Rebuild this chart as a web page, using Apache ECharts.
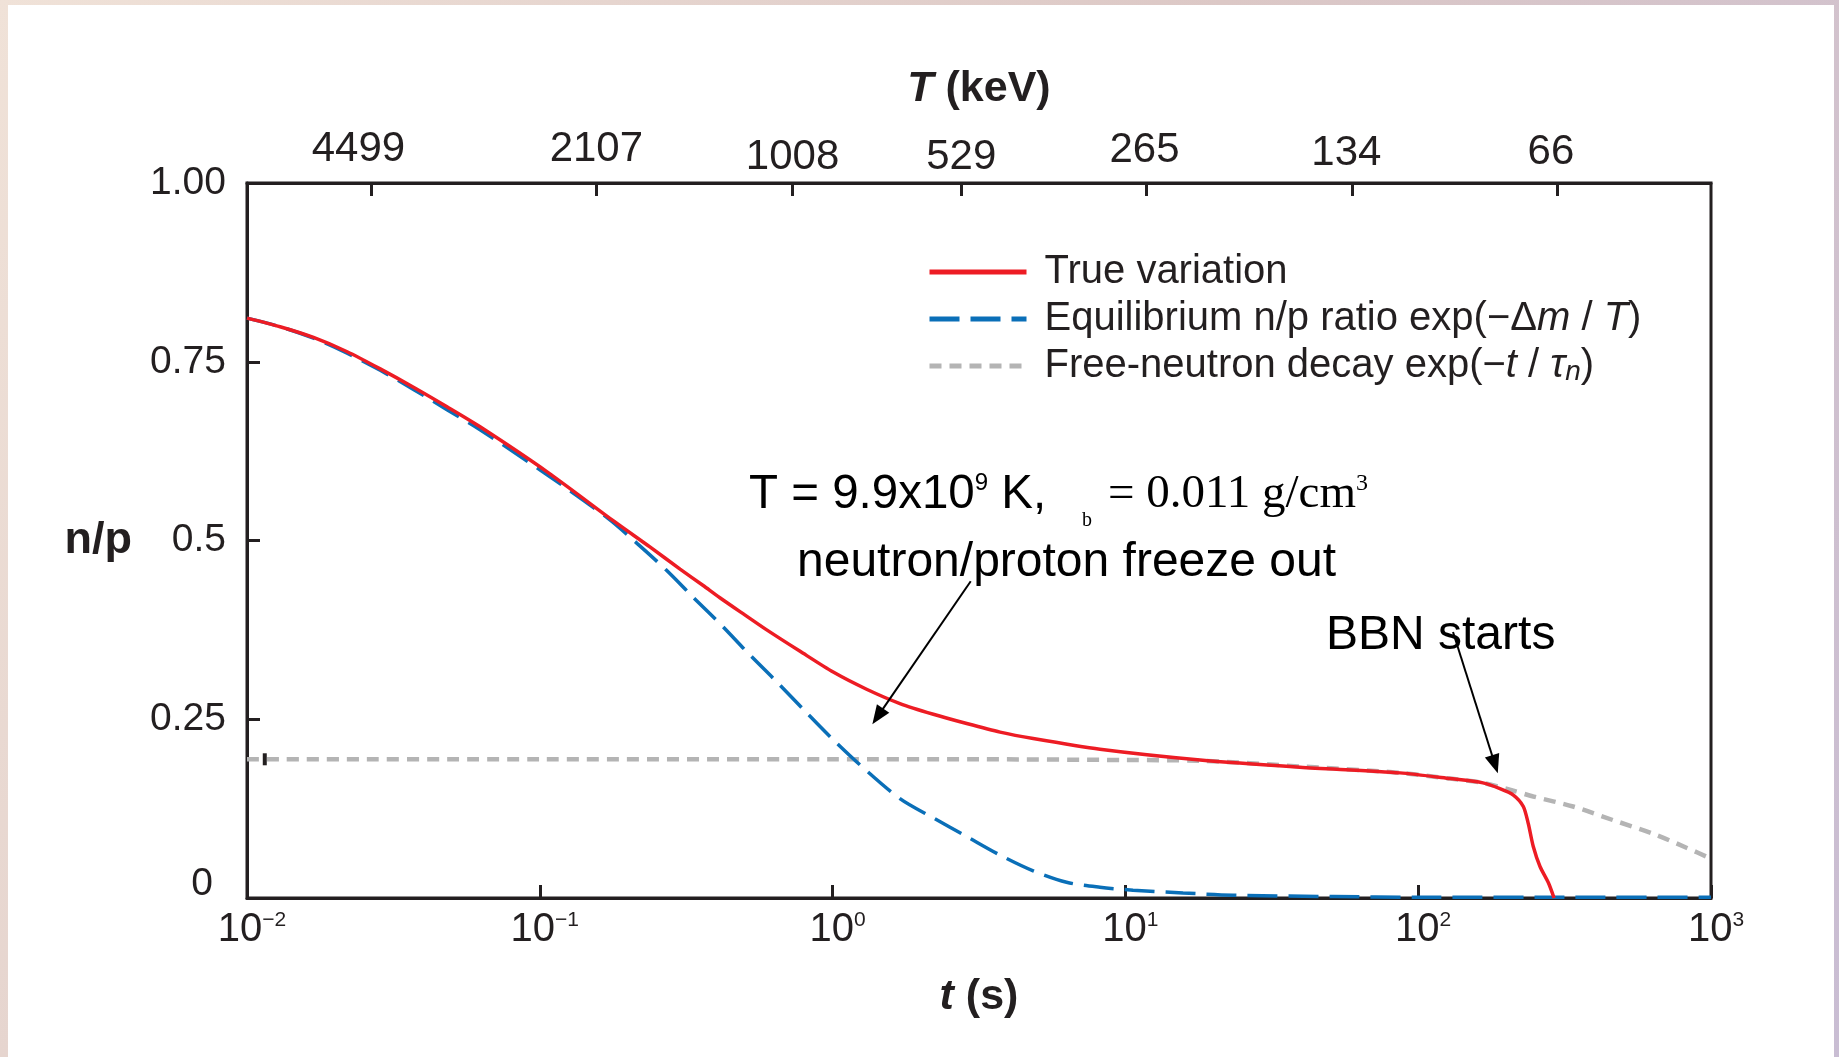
<!DOCTYPE html>
<html>
<head>
<meta charset="utf-8">
<script src="https://cdn.jsdelivr.net/npm/echarts@6/dist/echarts.min.js"></script>
<style>
html,body{margin:0;padding:0;background:#fff;}
#c{width:1839px;height:1057px;}
</style>
</head>
<body>
<div id="c"></div>
<script>
// ---------- data ----------
// log10(t / s) positions and n/p values
const trueLogT = [-2.0, -1.887, -1.773, -1.658, -1.545, -1.430, -1.317, -1.204, -0.975, -0.747, -0.624, -0.521, -0.442, -0.385, -0.300, -0.225, -0.111, 0.002, 0.116, 0.230, 0.344, 0.458, 0.572, 0.685, 0.913, 1.255, 1.596, 1.938, 2.109, 2.221, 2.279, 2.325, 2.359, 2.376, 2.393, 2.416, 2.445, 2.464];
const trueVal  = [0.811, 0.799, 0.784, 0.764, 0.740, 0.714, 0.687, 0.659, 0.596, 0.527, 0.491, 0.460, 0.437, 0.420, 0.396, 0.375, 0.345, 0.316, 0.292, 0.272, 0.257, 0.244, 0.232, 0.223, 0.208, 0.193, 0.183, 0.175, 0.167, 0.161, 0.153, 0.144, 0.128, 0.104, 0.072, 0.044, 0.021, 0.000];

const eqLogT = [-2.0, -1.887, -1.773, -1.658, -1.545, -1.430, -1.317, -1.204, -0.975, -0.767, -0.668, -0.569, -0.477, -0.378, -0.285, -0.190, -0.098, -0.002, 0.094, 0.230, 0.344, 0.458, 0.572, 0.685, 0.799, 0.913, 1.026, 1.197, 1.368, 1.710, 2.0, 2.5, 3.0];
const eqVal  = [0.811, 0.799, 0.783, 0.762, 0.738, 0.711, 0.683, 0.655, 0.592, 0.531, 0.496, 0.459, 0.421, 0.381, 0.341, 0.302, 0.263, 0.223, 0.186, 0.139, 0.112, 0.086, 0.060, 0.038, 0.022, 0.015, 0.011, 0.007, 0.004, 0.002, 0.001, 0.001, 0.001];

const decayLogT = [-2.0, -1.0, 0.0, 0.5, 1.0, 1.255, 1.596, 1.938, 2.109, 2.221, 2.325, 2.393, 2.529, 2.665, 2.802, 2.918, 3.0];
const decayVal  = [0.194, 0.194, 0.194, 0.194, 0.193, 0.192, 0.184, 0.175, 0.167, 0.161, 0.150, 0.142, 0.128, 0.109, 0.090, 0.070, 0.055];

const seriesNames = ['True variation', 'Equilibrium n/p ratio', 'Free-neutron decay'];

const yTickValues = [0, 0.25, 0.5, 0.75, 1];
const yTickLabels = ['0', '0.25', '0.5', '0.75', '1.00'];

// top axis: time (s) at which each temperature tick sits, and its label (keV)
const topTickTimes  = [0.0266, 0.156, 0.730, 2.75, 11.8, 59.6, 299];
const topTickLabels = ['4499', '2107', '1008', '529', '265', '134', '66'];

// annotation arrows: [t (s), n/p] start -> end
const arrowFreeze = [[2.963, 0.443], [1.426, 0.254]];
const arrowBBN    = [[131.5, 0.372], [182.8, 0.187]];
// small dark mark on the decay line near the left edge
const decayMark = [0.0115, 0.194];

// ---------- chart ----------
const FONT = '"Liberation Sans", Arial, Helvetica, sans-serif';
const SERIF = '"Liberation Serif", "Times New Roman", serif';
const INK = '#231f20';

const toPairs = (lt, v) => lt.map((l, i) => [Math.pow(10, l), v[i]]);
const topPos = topTickTimes.map(t => Math.log10(t));

// per-label text placement of the top tick labels (padding: top,right,bottom,left)
const topLabelPad = [[0, 26, 15, 0], [0, 0, 15, 0], [0, 0, 0, 0], [0, 0, 0, 0], [0, 4, 13, 0], [0, 12, 7, 0], [0, 13, 10, 0]];
const topRich = {};
topLabelPad.forEach((p, i) => {
  topRich['t' + i] = {fontSize: 42, fontFamily: FONT, color: INK, lineHeight: 42, padding: p};
});

const chart = echarts.init(document.getElementById('c'), null, {renderer: 'canvas'});

const option = {
  animation: false,
  backgroundColor: new echarts.graphic.LinearGradient(0, 0, 1, 1, [
    {offset: 0, color: '#f0e2d8'},
    {offset: 0.5, color: '#dcc8c6'},
    {offset: 1, color: '#c9bdd3'}
  ]),
  grid: {
    left: 247, right: 128, top: 183, bottom: 159,
    show: true, borderColor: INK, borderWidth: 3, backgroundColor: 'transparent',
    containLabel: false, outerBoundsMode: 'none'
  },
  legend: {
    show: true,
    orient: 'vertical',
    left: 922, top: 247,
    itemWidth: 97, itemHeight: 14, itemGap: 7,
    selectedMode: false,
    data: seriesNames,
    lineStyle: {width: 5},
    itemStyle: {opacity: 0},
    textStyle: {
      fontSize: 40, fontFamily: FONT, color: INK, lineHeight: 40, padding: [0, 0, 0, 13],
      rich: {
        i: {fontSize: 40, fontFamily: FONT, color: INK, fontStyle: 'italic', lineHeight: 40},
        s: {fontSize: 28, fontFamily: FONT, color: INK, fontStyle: 'italic', lineHeight: 20, verticalAlign: 'bottom'}
      }
    },
    formatter: function (name) {
      if (name === seriesNames[1]) return 'Equilibrium n/p ratio exp(\u2212\u0394{i|m} / {i|T})';
      if (name === seriesNames[2]) return 'Free-neutron decay exp(\u2212{i|t} / {i|\u03c4}{s|n})';
      return name;
    }
  },
  xAxis: [
    {
      type: 'log', logBase: 10, min: 0.01, max: 1000, position: 'bottom', gridIndex: 0,
      axisLine: {show: true, onZero: false, lineStyle: {color: INK, width: 3}},
      axisTick: {show: true, inside: true, length: 13, lineStyle: {color: INK, width: 3}},
      minorTick: {show: false}, splitLine: {show: false}, minorSplitLine: {show: false},
      axisLabel: {
        margin: 12, color: INK,
        formatter: function (v) {
          const e = Math.round(Math.log10(v));
          return '{b|10}{s|' + (e < 0 ? '\u2212' + (-e) : String(e)) + '}';
        },
        rich: {
          b: {fontSize: 40, fontFamily: FONT, color: INK, lineHeight: 40, padding: [0, 0, 0, 10]},
          s: {fontSize: 21, fontFamily: FONT, color: INK, lineHeight: 27, verticalAlign: 'top'}
        }
      },
      name: '{i|t} (s)', nameLocation: 'middle', nameGap: 78,
      nameTextStyle: {
        fontSize: 43, fontWeight: 'bold', fontFamily: FONT, color: INK, lineHeight: 42,
        rich: {i: {fontSize: 43, fontWeight: 'bold', fontStyle: 'italic', fontFamily: FONT, color: INK, lineHeight: 42}}
      }
    },
    {
      type: 'value', min: -2, max: 3, position: 'top', gridIndex: 0,
      axisLine: {show: true, onZero: false, lineStyle: {color: INK, width: 3}},
      axisTick: {show: true, inside: true, length: 13, lineStyle: {color: INK, width: 3}, customValues: topPos},
      splitLine: {show: false},
      axisLabel: {
        margin: 5, color: INK, customValues: topPos,
        formatter: function (v) {
          let idx = 0, best = Infinity;
          topPos.forEach((p, i) => { const d = Math.abs(p - v); if (d < best) { best = d; idx = i; } });
          return '{t' + idx + '|' + topTickLabels[idx] + '}';
        },
        rich: topRich
      },
      name: '{i|T} (keV)', nameLocation: 'middle', nameGap: 73,
      nameTextStyle: {
        fontSize: 43, fontWeight: 'bold', fontFamily: FONT, color: INK, lineHeight: 42,
        rich: {i: {fontSize: 43, fontWeight: 'bold', fontStyle: 'italic', fontFamily: FONT, color: INK, lineHeight: 42}}
      }
    }
  ],
  yAxis: {
    type: 'value', min: 0, max: 1, interval: 0.25,
    axisLine: {show: true, onZero: false, lineStyle: {color: INK, width: 3}},
    axisTick: {show: true, inside: true, length: 13, lineStyle: {color: INK, width: 3}},
    splitLine: {show: false},
    axisLabel: {
      margin: 21, color: INK,
      formatter: function (v) {
        const i = yTickValues.findIndex(t => Math.abs(t - v) < 1e-9);
        const lab = i >= 0 ? yTickLabels[i] : '';
        return v === 0 ? '{z|' + lab + '}' : '{n|' + lab + '}';
      },
      rich: {
        n: {fontSize: 39, fontFamily: FONT, color: INK, lineHeight: 39},
        z: {fontSize: 39, fontFamily: FONT, color: INK, lineHeight: 39, padding: [0, 13, 28, 0]}
      }
    },
    name: 'n/p', nameLocation: 'middle', nameRotate: 0, nameGap: 115,
    nameTextStyle: {fontSize: 45, fontWeight: 'bold', fontFamily: FONT, color: INK}
  },
  series: [
    {
      name: seriesNames[2], type: 'line', xAxisIndex: 0, yAxisIndex: 0,
      data: toPairs(decayLogT, decayVal),
      symbol: 'none', showSymbol: false, smooth: 0.3, z: 2,
      lineStyle: {color: '#b4b4b4', width: 4.5, type: [12, 8]},
      itemStyle: {color: '#b4b4b4'},
      markPoint: {
        silent: true, animation: false,
        symbol: 'rect', symbolSize: [4, 12],
        label: {show: false},
        itemStyle: {color: INK},
        data: [{coord: decayMark}]
      }
    },
    {
      name: seriesNames[1], type: 'line', xAxisIndex: 0, yAxisIndex: 0,
      data: toPairs(eqLogT, eqVal),
      symbol: 'none', showSymbol: false, smooth: 0.3, z: 3,
      lineStyle: {color: '#0a6fb8', width: 3.5, type: [30, 11]},
      itemStyle: {color: '#0a6fb8'}
    },
    {
      name: seriesNames[0], type: 'line', xAxisIndex: 0, yAxisIndex: 0,
      data: toPairs(trueLogT, trueVal),
      symbol: 'none', showSymbol: false, smooth: 0.25, z: 4,
      lineStyle: {color: '#ed1c24', width: 3.5},
      itemStyle: {color: '#ed1c24'},
      markLine: {
        silent: true, animation: false,
        symbol: ['none', 'triangle'], symbolSize: [15, 19],
        label: {show: false},
        emphasis: {disabled: true},
        lineStyle: {color: '#000', width: 2, type: 'solid'},
        itemStyle: {color: '#000'},
        data: [
          [{coord: arrowFreeze[0]}, {coord: arrowFreeze[1]}],
          [{coord: arrowBBN[0]}, {coord: arrowBBN[1]}]
        ]
      }
    }
  ],
  graphic: [
    {type: 'rect', z: -100, silent: true, shape: {x: 8, y: 5, width: 1826, height: 1060}, style: {fill: '#ffffff'}},
    {
      type: 'text', x: 749, y: 495, silent: true,
      style: {
        text: 'T = 9.9x10{sup|9} K,', font: '47.5px ' + FONT, fill: '#000', verticalAlign: 'middle',
        rich: {sup: {fontSize: 24, fontFamily: FONT, fill: '#000', color: '#000', lineHeight: 28, verticalAlign: 'top'}}
      }
    },
    {
      type: 'text', x: 1082, y: 521, silent: true,
      style: {text: 'b', font: '20px ' + SERIF, fill: '#000', verticalAlign: 'middle'}
    },
    {
      type: 'text', x: 1108, y: 495, silent: true,
      style: {
        text: '= 0.011 g/cm{sup|3}', font: '47px ' + SERIF, fill: '#000', verticalAlign: 'middle',
        rich: {sup: {fontSize: 24, fontFamily: SERIF, fill: '#000', color: '#000', lineHeight: 14, verticalAlign: 'top'}}
      }
    },
    {
      type: 'text', x: 797, y: 563, silent: true,
      style: {text: 'neutron/proton freeze out', font: '48px ' + FONT, fill: '#000', verticalAlign: 'middle'}
    },
    {
      type: 'text', x: 1326, y: 636, silent: true,
      style: {text: 'BBN starts', font: '48px ' + FONT, fill: '#000', verticalAlign: 'middle'}
    }
  ]
};

chart.setOption(option);
</script>
</body>
</html>
